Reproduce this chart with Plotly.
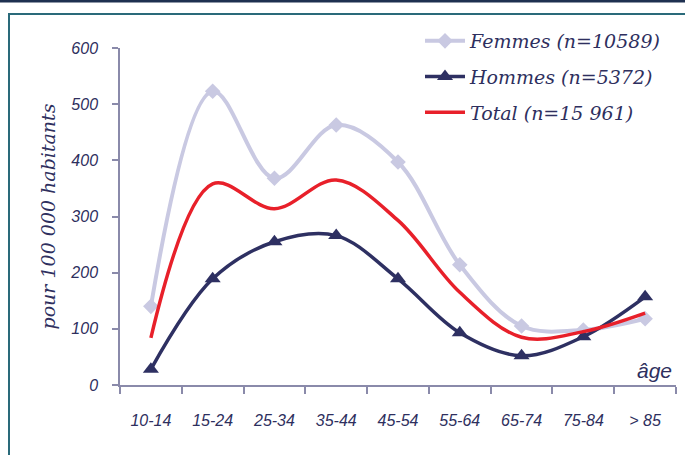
import plotly.graph_objects as go

categories = ["10-14", "15-24", "25-34", "35-44", "45-54", "55-64", "65-74", "75-84", "> 85"]
femmes = [140, 523, 368, 463, 397, 214, 105, 98, 118]
hommes = [28, 189, 255, 266, 189, 93, 52, 86, 157]
total = [84, 358, 314, 365, 293, 165, 85, 95, 128]

navy = "#2e2f5e"
axis_col = "#8a8aaa"
sans = "Liberation Sans"
serif = "DejaVu Serif"

fig = go.Figure()
fig.add_trace(go.Scatter(
    x=categories, y=femmes, name="Femmes (n=10589)", mode="lines+markers", legendgroup="f",
    line=dict(color="#c9c9e2", width=4, shape="spline", smoothing=1),
    marker=dict(symbol="diamond", size=12, color="#c9c9e2")))
fig.add_trace(go.Scatter(
    x=categories, y=hommes, name="Hommes (n=5372)", mode="lines+markers", legendgroup="h",
    line=dict(color="#2e3062", width=3.5, shape="spline", smoothing=1),
    marker=dict(symbol="triangle-up", size=14, color="#2e3062")))
fig.add_trace(go.Scatter(
    x=categories, y=total, name="Total (n=15 961)", mode="lines", legendgroup="t",
    line=dict(color="#e8202a", width=3.5, shape="spline", smoothing=1)))

def px_x(px):
    return (px - 120) / 556.0

def px_y(py):
    return (385 - py) / 337.0

fig.update_layout(
    width=685, height=455,
    margin=dict(l=120, r=9, t=48, b=70),
    paper_bgcolor="white", plot_bgcolor="white",
    showlegend=True,
    legend=dict(
        x=px_x(420), y=px_y(22), xanchor="left", yanchor="top",
        font=dict(family=serif, size=19, color=navy, style="italic"),
        bgcolor="rgba(0,0,0,0)", traceorder="grouped", tracegroupgap=8, itemwidth=40,
    ),
    xaxis=dict(
        type="category", range=[-0.5, 8.5], tickson="boundaries",
        showline=True, linecolor=axis_col, linewidth=1.5,
        ticks="outside", ticklen=7, tickcolor=axis_col, tickwidth=1.5,
        ticklabelstandoff=20,
        tickfont=dict(family=sans, size=16, color=navy, style="italic"),
        showgrid=False, zeroline=False,
    ),
    yaxis=dict(
        range=[0, 600], tickvals=[0, 100, 200, 300, 400, 500, 600],
        showline=True, linecolor=axis_col, linewidth=1.5,
        ticks="outside", ticklen=6, tickcolor=axis_col, tickwidth=1.5,
        ticklabelstandoff=11,
        tickfont=dict(family=sans, size=16, color=navy, style="italic"),
        showgrid=False, zeroline=False,
        title=dict(text="pour 100 000 habitants", standoff=10,
                   font=dict(family=serif, size=19, color=navy, style="italic")),
    ),
    shapes=[
        dict(type="rect", xref="paper", yref="paper",
             x0=px_x(9), x1=px_x(690), y0=px_y(14), y1=px_y(470),
             line=dict(color="#2a6a7a", width=2), fillcolor="rgba(0,0,0,0)", layer="below"),
        dict(type="line", xref="paper", yref="paper",
             x0=px_x(-5), x1=px_x(690), y0=px_y(1), y1=px_y(1),
             line=dict(color="#1e3050", width=3)),
    ],
    annotations=[
        dict(text="âge", xref="paper", yref="paper", x=px_x(674), y=px_y(370),
             xanchor="right", yanchor="middle", showarrow=False,
             font=dict(family=sans, size=21, color=navy, style="italic")),
    ],
)

fig.write_html("out.html", config={"displayModeBar": False},
               post_script="document.body.style.margin='0';")
